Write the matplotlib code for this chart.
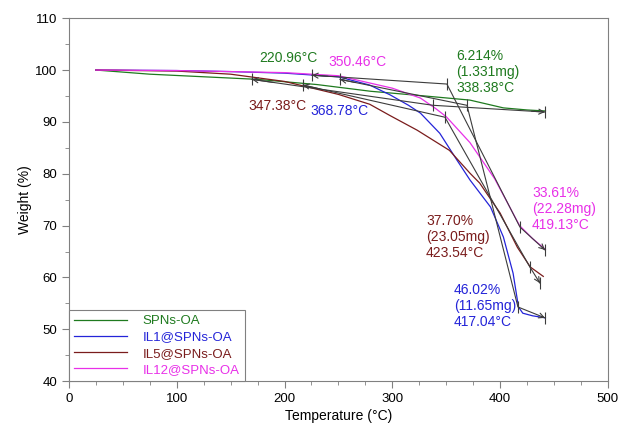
import matplotlib
matplotlib.use("Agg")
import matplotlib.pyplot as plt
from matplotlib.ticker import MultipleLocator

plt.rcParams["font.family"] = ["Liberation Sans", "DejaVu Sans"]

# TGA curves, temperature (°C) vs weight (%)
spns_T = [25, 75, 125, 175, 230, 280, 330, 372, 403, 425, 442]
spns_W = [100, 99.2, 98.7, 98.2, 97.2, 95.9, 95.0, 94.2, 92.7, 92.3, 92.1]

il1_T = [25, 100, 150, 200, 250, 279, 298, 315, 326, 344, 360, 372, 391, 403, 412, 417, 421, 430, 442]
il1_W = [100, 99.9, 99.7, 99.4, 98.7, 97.1, 95.2, 93.2, 91.7, 87.8, 82.6, 78.8, 73.6, 67.8, 60.8, 54.3, 53.1, 52.6, 52.2]

il5_T = [25, 100, 150, 200, 250, 279, 298, 323, 353, 372, 381, 400, 416, 428, 440]
il5_W = [100, 99.8, 99.2, 97.8, 95.3, 93.4, 91.2, 88.4, 84.5, 80.1, 78.2, 72.4, 65.8, 62.0, 60.2]

il12_T = [25, 100, 150, 200, 250, 279, 300, 326, 340, 350, 372, 395, 418, 430, 442]
il12_W = [100, 99.9, 99.7, 99.5, 98.9, 97.5, 96.5, 94.6, 92.6, 91.0, 86.0, 79.0, 70.0, 67.5, 65.4]

# onset / step analysis construction lines
spns_tan_T = [169.8, 337.7, 441.6]
spns_tan_W = [98.2, 93.2, 91.9]
il1_tan_T = [251.4, 369.2, 416.5, 441.6]
il1_tan_W = [98.2, 93.2, 54.3, 52.2]
il5_tan_T = [217.1, 348.8, 427.6, 436.9]
il5_tan_W = [97.1, 90.9, 62.0, 58.9]
il12_tan_T = [225.4, 350.6, 418.4, 441.6]
il12_tan_W = [99.0, 97.3, 69.7, 65.3]

labels = ["SPNs-OA", "IL1@SPNs-OA", "IL5@SPNs-OA", "IL12@SPNs-OA"]
colors = ["#1f7a1f", "#2424d8", "#7a1c1c", "#e830e8"]
tan_color = "#3c3c3c"

fig = plt.figure(figsize=(6.21, 4.23), dpi=100)
ax = fig.add_axes([0.111, 0.099, 0.868, 0.858])

curves = [(spns_T, spns_W), (il1_T, il1_W), (il5_T, il5_W), (il12_T, il12_W)]
for (t, w), lab, c in zip(curves, labels, colors):
    ax.plot(t, w, color=c, lw=0.9, label=lab)

tangents = [(spns_tan_T, spns_tan_W), (il1_tan_T, il1_tan_W),
            (il5_tan_T, il5_tan_W), (il12_tan_T, il12_tan_W)]
for t, w in tangents:
    ax.plot(t, w, color=tan_color, lw=0.8, marker="|", ms=8, mew=0.8)
    # arrows at left and right limits
    for i0, i1 in [(0, 1), (-1, -2)]:
        x0, y0 = t[i0], w[i0]
        x1, y1 = t[i1], w[i1]
        f = 0.12
        ax.annotate("", xy=(x0, y0), xytext=(x0 + (x1 - x0) * f, y0 + (y1 - y0) * f),
                    arrowprops=dict(arrowstyle="->", color=tan_color, lw=0.8,
                                    shrinkA=0, shrinkB=0, mutation_scale=9))

fs = 10
ax.text(203.2, 102.3, "220.96°C", color=colors[0], fontsize=fs, ha="center", va="center")
ax.text(267.2, 101.5, "350.46°C", color=colors[3], fontsize=fs, ha="center", va="center")
ax.text(193.9, 93.0, "347.38°C", color=colors[2], fontsize=fs, ha="center", va="center")
ax.text(251.4, 92.1, "368.78°C", color=colors[1], fontsize=fs, ha="center", va="center")
ax.text(359, 99.6, "6.214%\n(1.331mg)\n338.38°C", color=colors[0], fontsize=fs,
        ha="left", va="center", linespacing=1.2)
ax.text(429.5, 73.2, "33.61%\n(22.28mg)\n419.13°C", color=colors[3], fontsize=fs,
        ha="left", va="center", linespacing=1.2)
ax.text(331.2, 67.8, "37.70%\n(23.05mg)\n423.54°C", color=colors[2], fontsize=fs,
        ha="left", va="center", linespacing=1.2)
ax.text(357.1, 54.5, "46.02%\n(11.65mg)\n417.04°C", color=colors[1], fontsize=fs,
        ha="left", va="center", linespacing=1.2)

ax.set_xlim(0, 500)
ax.set_ylim(40, 110)
ax.xaxis.set_major_locator(MultipleLocator(100))
ax.xaxis.set_minor_locator(MultipleLocator(25))
ax.yaxis.set_major_locator(MultipleLocator(10))
ax.yaxis.set_minor_locator(MultipleLocator(5))
ax.tick_params(which="both", direction="out", color="#808080", labelsize=9.5)
ax.tick_params(which="major", length=5)
ax.tick_params(which="minor", length=3)
for s in ax.spines.values():
    s.set_color("#808080")
    s.set_linewidth(0.8)

ax.set_xlabel("Temperature (°C)", fontsize=10, labelpad=3)
ax.set_ylabel("Weight (%)", fontsize=10, labelpad=2)

leg = ax.legend(loc="lower left", borderaxespad=0, fontsize=9.5, handlelength=4.0,
                handletextpad=1.2, labelspacing=0.3, fancybox=False, framealpha=1,
                edgecolor="#808080", borderpad=0.4)
leg.get_frame().set_linewidth(0.8)
for txt, c in zip(leg.get_texts(), colors):
    txt.set_color(c)

fig.savefig("out.png", dpi=100)
